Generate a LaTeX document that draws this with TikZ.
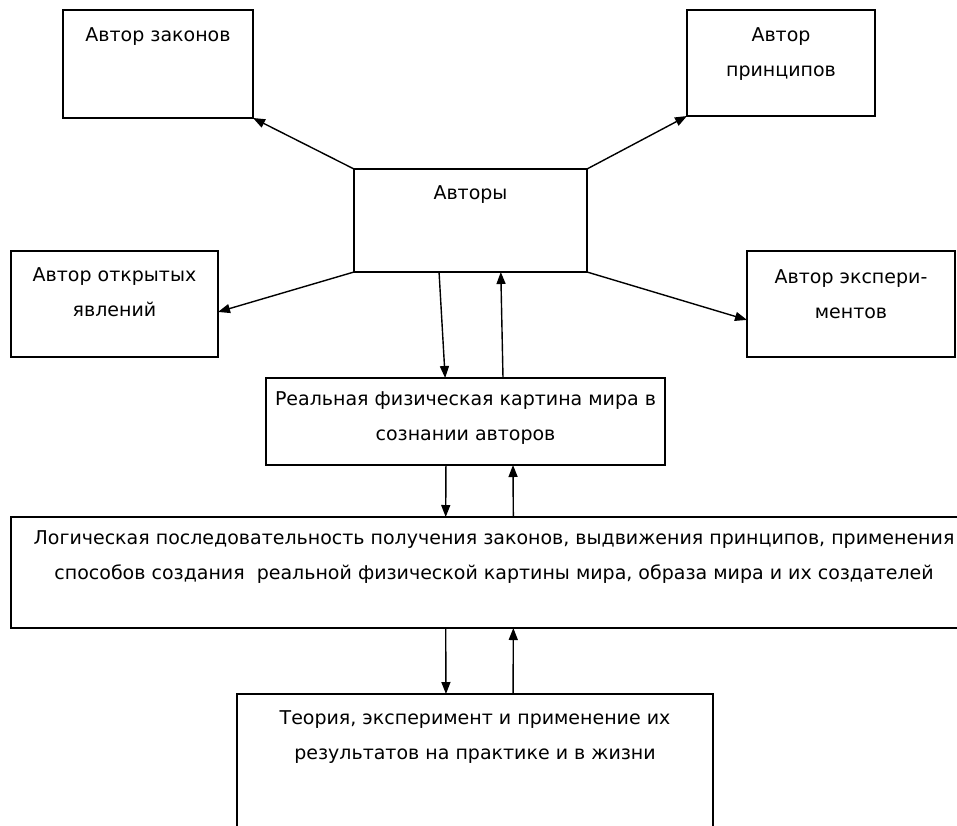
\documentclass[tikz,border=0pt]{standalone}
\usepackage{fontspec}
\setmainfont{DejaVu Sans}
\usepackage{tikz}
\usetikzlibrary{arrows.meta, calc}

\tikzset{
  box/.style={draw, line width=1.5pt, anchor=north west, inner sep=0pt, outer sep=0pt},
  lbl/.style={anchor=north, inner sep=0pt, align=center, font=\fontsize{19}{35}\selectfont},
  arr/.style={line width=1.4pt, -{Triangle[length=12pt,width=9pt]}},
}

\begin{document}
\begin{tikzpicture}[x=1pt, y=-1pt]
  \useasboundingbox (0,0) rectangle (957,825);

  % --- Boxes ---
  \node[box, minimum width=190pt, minimum height=108pt] (zak) at (63,10) {};
  \node[box, minimum width=188pt, minimum height=106pt] (prin) at (687,10) {};
  \node[box, minimum width=233pt, minimum height=103pt] (av) at (354,169) {};
  \node[box, minimum width=207pt, minimum height=106pt] (otk) at (11,251) {};
  \node[box, minimum width=208pt, minimum height=106pt] (eks) at (747,251) {};
  \node[box, minimum width=399pt, minimum height=87pt] (real) at (266,378) {};
  \node[box, minimum width=966pt, minimum height=111pt] (log) at (11,517) {};
  \node[box, minimum width=476pt, minimum height=150pt] (teo) at (237,694) {};

  % --- Texts ---
  \node[lbl] (zakt) at ([yshift=-17pt]zak.north) {Автор законов};
  \node[lbl] (print) at ([yshift=-17pt]prin.north) {Автор\\принципов};
  \node[lbl] (avt) at ([yshift=-16pt]av.north) {Авторы};
  \node[lbl] (otkt) at ([yshift=-16pt]otk.north) {Автор открытых\\явлений};
  \node[lbl] (ekst) at ([yshift=-18pt]eks.north) {Автор экспери-\\ментов};
  \node[lbl] (realt) at ([yshift=-13pt]real.north) {Реальная физическая картина мира в\\сознании авторов};
  \node[lbl] (logt) at ([yshift=-13pt]log.north) {Логическая последовательность получения законов, выдвижения принципов, применения\\способов создания\ \ реальной физической картины мира, образа мира и их создателей};
  \node[lbl] (teot) at ([yshift=-16pt]teo.north) {Теория, эксперимент и применение их\\результатов на практике и в жизни};

  % --- Arrows from the authors ---
  \draw[arr] (av.north west) -- (zak.south east);
  \draw[arr] (av.north east) -- (prin.south west);
  \draw[arr] (av.south west) -- ($(otk.north east)!0.575!(otk.south east)$);
  \draw[arr] (av.south east) -- ($(eks.north west)!0.65!(eks.south west)$);

  % --- Vertical links ---
  \draw[arr] ($(av.south west)!0.365!(av.south east)$) -- ($(real.north west)!0.449!(real.north east)$);
  \draw[arr] ($(real.north west)!0.594!(real.north east)$) -- ($(av.south west)!0.63!(av.south east)$);
  \draw[arr] ($(real.south west)!0.451!(real.south east)$) -- ($(log.north west)!0.45!(log.north east)$);
  \draw[arr] ($(log.north west)!0.52!(log.north east)$) -- ($(real.south west)!0.619!(real.south east)$);
  \draw[arr] ($(log.south west)!0.45!(log.south east)$) -- ($(teo.north west)!0.439!(teo.north east)$);
  \draw[arr] ($(teo.north west)!0.58!(teo.north east)$) -- ($(log.south west)!0.52!(log.south east)$);
\end{tikzpicture}
\end{document}
